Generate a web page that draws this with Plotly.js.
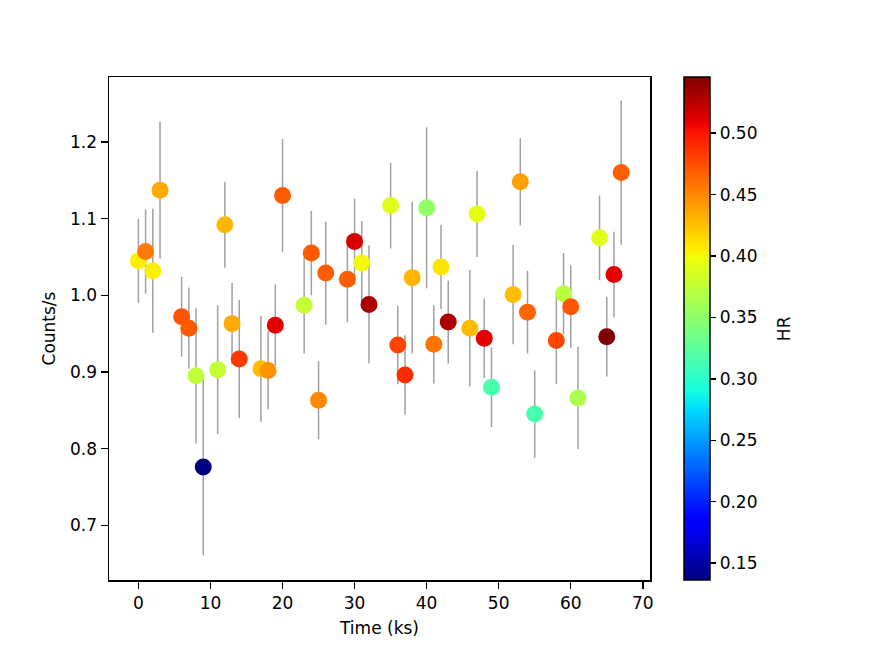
<!DOCTYPE html>
<html>
<head>
<meta charset="utf-8">
<script src="https://cdn.plot.ly/plotly-3.0.1.min.js"></script>
<style>
  body { margin: 0; background: #fff; }
  #plot { width: 872px; height: 653px; }
</style>
</head>
<body>
<div id="plot"></div>
<script>
// time bins (ks), rate, 1-sigma error and hardness ratio
var time_ks = [0, 1, 2, 3, 6, 7, 8, 9, 11, 12, 13, 14, 17, 18, 19, 20, 23, 24, 25, 26,
               29, 30, 31, 32, 35, 36, 37, 38, 40, 41, 42, 43, 46, 47, 48, 49, 52, 53, 54, 55,
               58, 59, 60, 61, 64, 65, 66, 67];
var rate = [1.045, 1.057, 1.032, 1.137, 0.972, 0.957, 0.895, 0.776, 0.903, 1.092, 0.963, 0.917,
            0.904, 0.902, 0.961, 1.130, 0.987, 1.055, 0.863, 1.029, 1.021, 1.070, 1.042, 0.988,
            1.117, 0.935, 0.896, 1.023, 1.114, 0.936, 1.037, 0.965, 0.957, 1.106, 0.944, 0.880,
            1.001, 1.148, 0.978, 0.845, 0.941, 1.002, 0.985, 0.866, 1.075, 0.946, 1.027, 1.160];
var rate_err = [0.055, 0.055, 0.081, 0.089, 0.052, 0.053, 0.088, 0.115, 0.084, 0.056, 0.053, 0.077,
                0.069, 0.051, 0.053, 0.074, 0.063, 0.055, 0.051, 0.067, 0.056, 0.056, 0.055, 0.077,
                0.056, 0.051, 0.052, 0.099, 0.105, 0.051, 0.055, 0.054, 0.076, 0.056, 0.052, 0.052,
                0.065, 0.057, 0.054, 0.057, 0.057, 0.053, 0.054, 0.067, 0.055, 0.052, 0.056, 0.094];
var hr = [0.406, 0.456, 0.405, 0.435, 0.472, 0.470, 0.374, 0.136, 0.377, 0.430, 0.435, 0.485,
          0.427, 0.445, 0.510, 0.470, 0.376, 0.470, 0.450, 0.468, 0.468, 0.515, 0.400, 0.530,
          0.390, 0.480, 0.490, 0.430, 0.352, 0.458, 0.410, 0.530, 0.428, 0.393, 0.510, 0.316,
          0.427, 0.440, 0.465, 0.316, 0.478, 0.372, 0.472, 0.365, 0.392, 0.546, 0.510, 0.468];

var x_ticks = [0, 10, 20, 30, 40, 50, 60, 70];
var y_ticks = [0.7, 0.8, 0.9, 1.0, 1.1, 1.2];
var hr_ticks = [0.15, 0.20, 0.25, 0.30, 0.35, 0.40, 0.45, 0.50];

// matplotlib 'jet'
var jet = [
  [0, 'rgb(0,0,128)'], [0.11, 'rgb(0,0,255)'], [0.125, 'rgb(0,0,255)'],
  [0.34, 'rgb(0,219,255)'], [0.35, 'rgb(0,230,247)'], [0.375, 'rgb(20,255,226)'],
  [0.64, 'rgb(239,255,8)'], [0.65, 'rgb(247,245,0)'], [0.66, 'rgb(255,236,0)'],
  [0.89, 'rgb(255,19,0)'], [0.91, 'rgb(232,0,0)'], [1, 'rgb(128,0,0)']
];

var fnt = {family: 'DejaVu Sans', size: 17, color: '#000'};

var errTrace = {
  x: time_ks,
  y: rate,
  mode: 'markers',
  type: 'scatter',
  marker: {size: 1, opacity: 0},
  error_y: {type: 'data', array: rate_err, visible: true, color: 'rgb(160,160,160)', thickness: 1.5, width: 0},
  hoverinfo: 'skip',
  showlegend: false
};

var ptTrace = {
  x: time_ks,
  y: rate,
  mode: 'markers',
  type: 'scatter',
  marker: {
    size: 17,
    color: hr,
    colorscale: jet,
    cmin: 0.1362,
    cmax: 0.5458,
    line: {width: 0},
    colorbar: {
      x: 1.063, xanchor: 'left', xpad: 0,
      y: 0.5, yanchor: 'middle', ypad: 0,
      len: 1, lenmode: 'fraction',
      thickness: 26, thicknessmode: 'pixels',
      outlinewidth: 1.5, outlinecolor: '#000',
      ticks: 'outside', ticklen: 6, tickwidth: 1.5, tickcolor: '#000',
      tickvals: hr_ticks,
      ticktext: hr_ticks.map(function (v) { return v.toFixed(2); }),
      tickfont: fnt
    }
  },
  showlegend: false
};

var layout = {
  width: 872,
  height: 653,
  margin: {l: 109, r: 222, t: 77, b: 73},
  paper_bgcolor: '#fff',
  plot_bgcolor: '#fff',
  font: fnt,
  xaxis: {
    range: [-4.08, 71.0],
    tickvals: x_ticks,
    ticks: 'outside', ticklen: 7, tickwidth: 1.5, tickcolor: '#000',
    showline: true, linecolor: '#000', linewidth: 1.5, mirror: true,
    showgrid: false, zeroline: false,
    tickfont: fnt,
    title: {text: 'Time (ks)', font: fnt, standoff: 10}
  },
  yaxis: {
    range: [0.6286, 1.2847],
    tickvals: y_ticks,
    ticktext: y_ticks.map(function (v) { return v.toFixed(1); }),
    ticks: 'outside', ticklen: 7, tickwidth: 1.5, tickcolor: '#000',
    showline: true, linecolor: '#000', linewidth: 1.5, mirror: true,
    showgrid: false, zeroline: false,
    tickfont: fnt,
    title: {text: 'Counts/s', font: fnt, standoff: 10}
  },
  annotations: [{
    text: 'HR', font: fnt, textangle: -90,
    xref: 'paper', yref: 'paper', x: 1.247, y: 0.5,
    xanchor: 'center', yanchor: 'middle', showarrow: false
  }]
};

Plotly.newPlot('plot', [errTrace, ptTrace], layout, {displayModeBar: false, staticPlot: true});
</script>
</body>
</html>
